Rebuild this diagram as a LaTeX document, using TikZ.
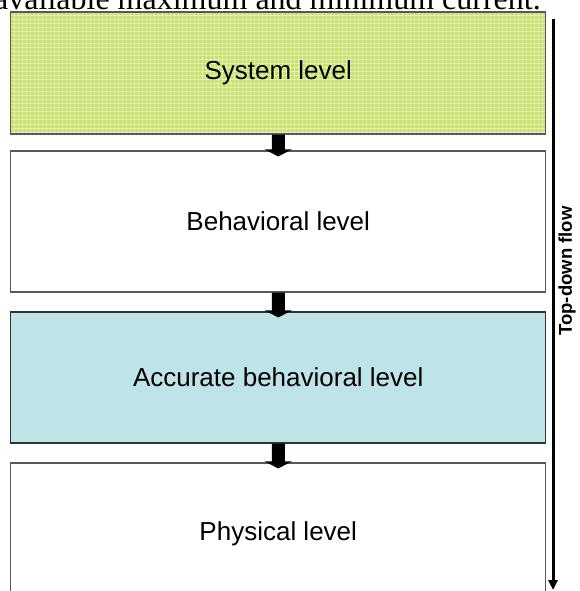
\documentclass[tikz,border=0pt]{standalone}
\usepackage{fontspec}
\setmainfont{Liberation Sans}[BoldFont={Liberation Sans Bold}]
\newfontfamily\bodyserif{Liberation Serif}
\usetikzlibrary{calc,arrows.meta}
\definecolor{syslime}{RGB}{200,226,108}
\definecolor{accteal}{RGB}{190,228,232}
\definecolor{boxedge}{RGB}{88,88,88}
\begin{document}
\begin{tikzpicture}[x=1pt,y=-1pt,
  level/.style={draw=boxedge, line width=1.1pt, minimum width=535pt,
    inner sep=0pt, font=\fontsize{26}{30}\selectfont},
  gridfill/.style={path picture={
    \foreach \k in {0,4,...,540}{
      \draw[white,opacity=0.45,line width=1pt]
        ($(path picture bounding box.north west)+(\k,0)$) --
        ($(path picture bounding box.south west)+(\k,0)$);
    }
    \foreach \k in {0,4,...,140}{
      \draw[white,opacity=0.45,line width=1pt]
        ($(path picture bounding box.north west)+(0,\k)$) --
        ($(path picture bounding box.north east)+(0,\k)$);
    }
  }},
  blockarrow/.style={fill=black, to path={
    ($(\tikztostart)+(-6.5,0)$) -- ($(\tikztotarget)+(-6.5,-1)$) --
    ($(\tikztotarget)+(-13.5,-1)$) -- ($(\tikztotarget)+(0,6)$) --
    ($(\tikztotarget)+(13.5,-1)$) -- ($(\tikztotarget)+(6.5,-1)$) --
    ($(\tikztostart)+(6.5,0)$) -- cycle}},
  flow/.style={line width=3pt, -{Triangle[width=9pt,length=10pt]}}
]
\useasboundingbox (0,0) rectangle (579,591);
\clip (0,0) rectangle (579,591);

% caption line running above the figure
\node[font=\bodyserif\fontsize{32}{36}\selectfont, anchor=base west, inner sep=0pt]
  (caption) at (-6,10) {available maximum and minimum current.};

% design levels
\node[level, fill=syslime, gridfill, minimum height=122pt] (sys) at (278.25,73) {System level};
\node[level, fill=white, minimum height=141pt] (beh) at (278.25,221.5) {Behavioral level};
\node[level, fill=accteal, draw=black!80, minimum height=131pt] (acc) at (278.25,377.5) {Accurate behavioral level};
\node[level, fill=white, minimum height=141pt] (phy) at (278.25,533.5) {Physical level};

% refinement arrows between levels
\path[blockarrow] (sys.south) to (beh.north);
\path[blockarrow] (beh.south) to (acc.north);
\path[blockarrow] (acc.south) to (phy.north);

% overall flow direction
\coordinate (flowtop) at (553,19);
\coordinate (flowend) at (553,590);
\draw[flow] (flowtop) -- (flowend);
\node[rotate=90, font=\bfseries\fontsize{18.5}{20}\selectfont] (flowlabel) at (567,271) {Top-down flow};
\end{tikzpicture}
\end{document}
